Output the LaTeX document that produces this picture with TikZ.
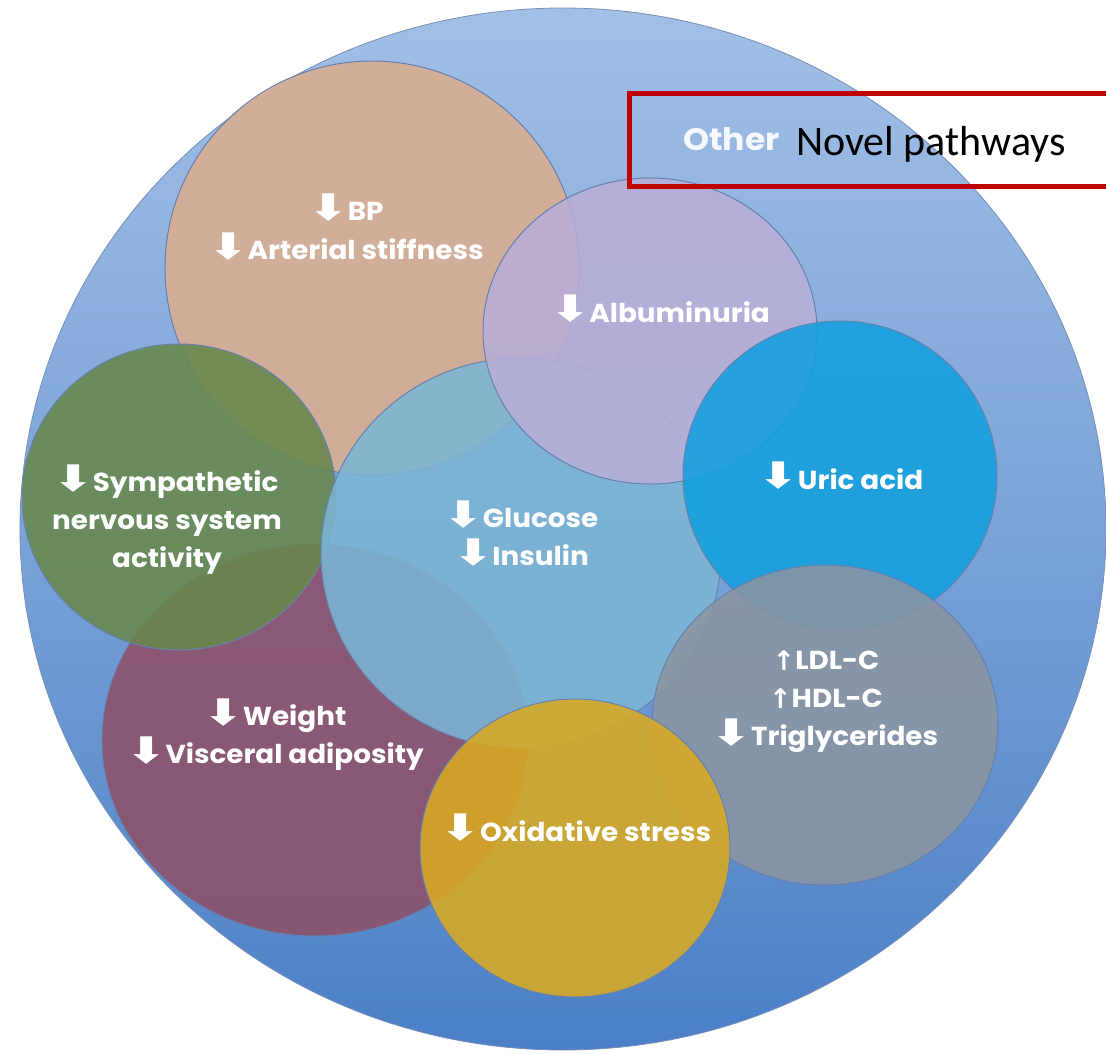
\documentclass[tikz,border=0pt]{standalone}
\usepackage{fontspec}
\usepackage{graphicx}
\setmainfont{Poppins}[FakeStretch=1.07]
\newfontfamily\calfont{Carlito}
\newfontfamily\symfont{DejaVu Sans}
\definecolor{bgtop}{HTML}{A2C0E6}
\definecolor{bgbot}{HTML}{4A7FC6}
\definecolor{edgeblue}{HTML}{5673A6}
\definecolor{corange}{HTML}{DBAE90}
\definecolor{cgreen}{HTML}{67884C}
\definecolor{cmaroon}{HTML}{8E5068}
\definecolor{cgluc}{HTML}{7CB5D4}
\definecolor{clav}{HTML}{B8AFD8}
\definecolor{curic}{HTML}{13A0DE}
\definecolor{cgrey}{HTML}{8B95A2}
\definecolor{cyellow}{HTML}{D8AA22}
\definecolor{boxred}{HTML}{C00000}
\newcommand\dnarr{\kern-2pt\smash{\symfont\fontsize{30}{30}\selectfont\raisebox{0.5pt}{\scalebox{1.6}[1.22]{⬇}}}\kern-1pt}
\newcommand\uparr{\smash{\symfont\fontsize{27}{27}\selectfont\raisebox{-1pt}{↑}}}
\tikzset{
  blob/.style={draw=edgeblue!90, line width=1pt, fill opacity=0.88},
  lbl/.style={text=white, font=\fontsize{26}{38}\selectfont\bfseries, align=center, inner sep=0pt},
}
\begin{document}
\begin{tikzpicture}[x=1pt,y=-1pt]
\useasboundingbox (0,0) rectangle (1106,1053);
\clip (0,0) rectangle (1106,1053);
% outer ellipse
\shade[top color=bgtop, bottom color=bgbot, middle color=bgtop!55!bgbot]
  (563,529) ellipse [x radius=543pt, y radius=521pt];
\draw[edgeblue!80, line width=0.8pt] (563,529) ellipse [x radius=543pt, y radius=521pt];
% circles
\draw[blob, fill=corange] (372,268) ellipse [x radius=207pt, y radius=207pt];
\draw[blob, fill=cmaroon] (315,740) ellipse [x radius=213pt, y radius=196pt];
\draw[blob, fill=cgreen] (179,497) ellipse [x radius=157pt, y radius=153pt];
\draw[blob, fill=cgluc] (521,553) ellipse [x radius=200pt, y radius=195pt];
\draw[blob, fill=clav] (650,331) ellipse [x radius=167pt, y radius=153pt];
\draw[blob, fill=curic] (840,476) ellipse [x radius=157pt, y radius=155pt];
\draw[blob, fill=cgrey] (825,725) ellipse [x radius=173pt, y radius=160pt];
\draw[blob, fill=cyellow] (575,848) ellipse [x radius=155pt, y radius=149pt];
% labels
\node[lbl, font=\fontsize{26}{39}\selectfont\bfseries] (bp) at (347,231) {\dnarr BP\\\dnarr Arterial stiffness};
\node[lbl] (alb) at (661,312) {\dnarr Albuminuria};
\node[lbl] (uric) at (842,479) {\dnarr Uric acid};
\node[lbl] (gluc) at (522,537) {\dnarr Glucose\\\dnarr Insulin};
\node[lbl] (sym) at (167,523) {\dnarr Sympathetic\\nervous system\\activity};
\node[lbl] (wt) at (276,738) {\dnarr Weight\\\dnarr Visceral adiposity};
\node[lbl] (lip) at (826,702) {\uparr LDL-C\\\uparr HDL-C\\\dnarr Triglycerides};
\node[lbl] (ox) at (577,831) {\dnarr Oxidative stress};
% red box
\draw[boxred, line width=5pt] (1115,93) -- (629,93) -- (629,186) -- (1115,186);
\node[text=white, text opacity=0.9, font=\fontsize{31}{31}\selectfont\bfseries, anchor=base west, inner sep=0pt] (other) at (683,150) {Other};
\node[text=black, font=\calfont\fontsize{42}{42}\selectfont, anchor=base west, inner sep=0pt] (novel) at (796,155) {Novel pathways};
\end{tikzpicture}
\end{document}
